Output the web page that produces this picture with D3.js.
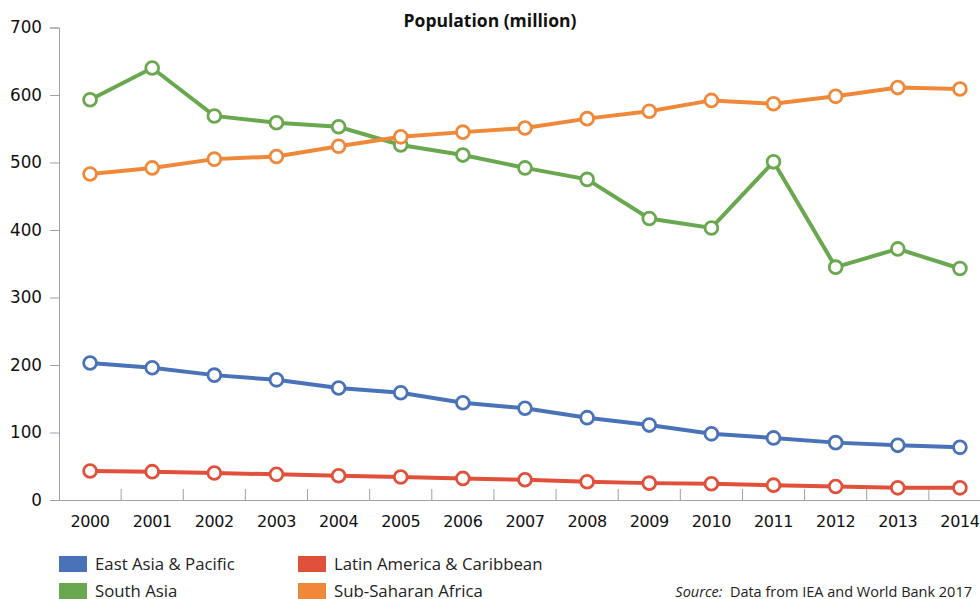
<!DOCTYPE html>
<html>
<head>
<meta charset="utf-8">
<script src="https://cdn.jsdelivr.net/npm/d3@7"></script>
<style>
  body { margin: 0; background: #fff; }
  svg { font-family: "Open Sans", "Noto Sans", sans-serif; }
  .num { font-family: "DejaVu Sans", sans-serif; }
</style>
</head>
<body>
<div id="chart"></div>
<script>
// years along the x axis
const years = ["2000","2001","2002","2003","2004","2005","2006","2007","2008","2009","2010","2011","2012","2013","2014"];

// population in millions
const eastAsia = [203, 196, 185, 178, 166, 159, 144, 136, 122, 111, 98, 92, 85, 81, 78];
const latinAmerica = [43, 42, 40, 38, 36, 34, 32, 30, 27, 25, 24, 22, 20, 18, 18];
const southAsia = [593, 640, 569, 559, 553, 526, 511, 492, 475, 417, 403, 501, 345, 372, 343];
const subSaharan = [483, 492, 505, 509, 524, 538, 545, 551, 565, 576, 592, 587, 598, 611, 609];

const yTicks = [0, 100, 200, 300, 400, 500, 600, 700];

const series = [
  { name: "East Asia & Pacific", values: eastAsia, color: "#4a72b8" },
  { name: "Latin America & Caribbean", values: latinAmerica, color: "#e0503a" },
  { name: "South Asia", values: southAsia, color: "#6aa84f" },
  { name: "Sub-Saharan Africa", values: subSaharan, color: "#f0883a" }
];

const width = 980, height = 599;
const mLeft = 59, mRight = 991, mTop = 27.5, mBottom = 500;

const svg = d3.select("#chart").append("svg")
  .attr("width", width)
  .attr("height", height);

const x = d3.scaleBand().domain(years).range([mLeft, mRight]);
const y = d3.scaleLinear().domain([0, 700]).range([mBottom, mTop]);

const axisColor = "#9f9fb0";

// title
svg.append("text")
  .attr("x", 490).attr("y", 27)
  .attr("text-anchor", "middle")
  .style("font-size", "17.5px")
  .style("font-weight", "bold")
  .attr("fill", "#111")
  .text("Population (million)");

// y axis
const yAxis = svg.append("g")
  .attr("transform", `translate(${mLeft},0)`)
  .call(d3.axisLeft(y).tickValues(yTicks).tickSize(9).tickPadding(8));
yAxis.select(".domain").attr("stroke", axisColor);
yAxis.selectAll(".tick line").attr("stroke", axisColor);
yAxis.selectAll("text").attr("class", "num").style("font-size", "16.8px").attr("fill", "#111");

// x axis: labels centred on bands, ticks at band edges pointing up
const xAxis = svg.append("g")
  .attr("transform", `translate(0,${mBottom})`)
  .call(d3.axisBottom(x).tickSize(0).tickPadding(16));
xAxis.select(".domain").attr("stroke", axisColor);
xAxis.selectAll("text").attr("class", "num")
  .style("font-size", "16px")
  .style("letter-spacing", "-0.4px")
  .attr("fill", "#111");

svg.append("g").selectAll("line")
  .data(years.slice(1))
  .join("line")
  .attr("x1", d => x(d)).attr("x2", d => x(d))
  .attr("y1", mBottom).attr("y2", mBottom - 11)
  .attr("stroke", axisColor);

const line = d3.line()
  .x((d, i) => x(years[i]) + x.bandwidth() / 2)
  .y(d => y(d));

series.forEach(s => {
  const g = svg.append("g");
  g.append("path")
    .datum(s.values)
    .attr("d", line)
    .attr("fill", "none")
    .attr("stroke", s.color)
    .attr("stroke-width", 4);
  g.selectAll("circle")
    .data(s.values)
    .join("circle")
    .attr("cx", (d, i) => x(years[i]) + x.bandwidth() / 2)
    .attr("cy", d => y(d))
    .attr("r", 6.4)
    .attr("fill", "#fff")
    .attr("stroke", s.color)
    .attr("stroke-width", 2.8);
});

// legend
const legend = svg.append("g");
series.forEach((s, i) => {
  const lx = i % 2 === 0 ? 59 : 298;
  const ly = i < 2 ? 556 : 583;
  legend.append("rect")
    .attr("x", lx).attr("y", ly)
    .attr("width", 28).attr("height", 16)
    .attr("fill", s.color);
  legend.append("text")
    .attr("x", lx + 36).attr("y", ly + 13.5)
    .style("font-size", "16.8px")
    .attr("fill", "#222")
    .text(s.name);
});

// source note
const src = svg.append("text")
  .attr("x", 972).attr("y", 597)
  .attr("text-anchor", "end")
  .style("font-size", "14.5px")
  .attr("fill", "#222");
src.append("tspan").style("font-style", "italic").text("Source:");
src.append("tspan").text("\u00a0 Data from IEA and World Bank 2017");
</script>
</body>
</html>
